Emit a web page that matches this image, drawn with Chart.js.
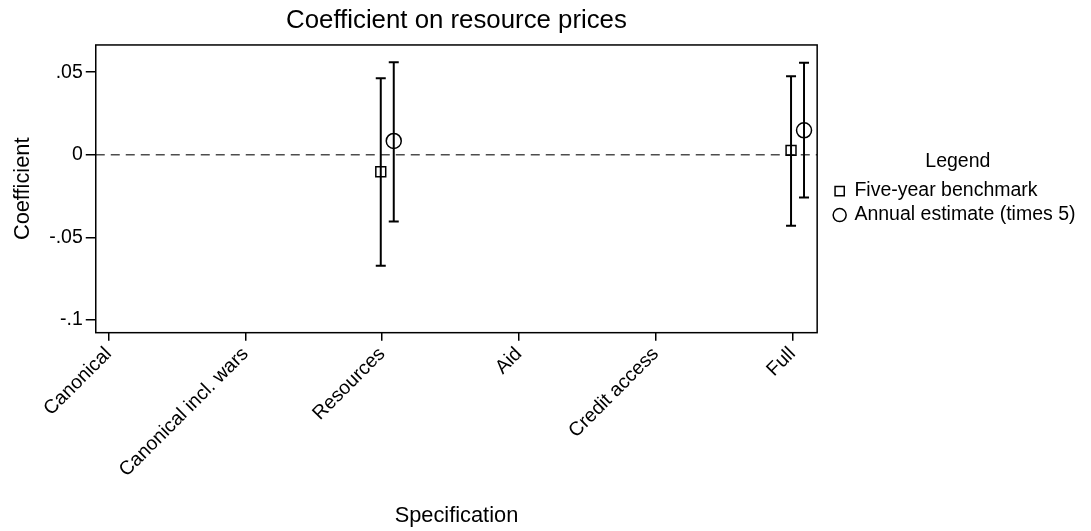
<!DOCTYPE html>
<html>
<head>
<meta charset="utf-8">
<title>Coefficient on resource prices</title>
<script src="https://cdn.jsdelivr.net/npm/chart.js@4.4.1/dist/chart.umd.min.js"></script>
<style>
  html, body { margin: 0; padding: 0; background: #fff; }
  #wrap { width: 1091px; height: 531px; position: relative; }
</style>
</head>
<body>
<div id="wrap"><canvas id="chart"></canvas></div>
<script>
// Specifications along the horizontal axis
const categories = ['Canonical', 'Canonical incl. wars', 'Resources', 'Aid', 'Credit access', 'Full'];

// Five-year benchmark: point estimate and confidence bounds
const fiveYearSpec = ['Resources', 'Full'];
const fiveYearCoef = [-0.0103, 0.0027];
const fiveYearLow  = [-0.0672, -0.0430];
const fiveYearHigh = [0.0463, 0.0475];

// Annual estimate (scaled by 5): point estimate and confidence bounds
const annualSpec = ['Resources', 'Full'];
const annualCoef = [0.0084, 0.0148];
const annualLow  = [-0.0404, -0.0259];
const annualHigh = [0.0560, 0.0558];

// Vertical axis ticks
const yTickValues = [-0.1, -0.05, 0, 0.05];
const yTickLabels = ['-.1', '-.05', '0', '.05'];

const FONT = '"Liberation Sans", Arial, Helvetica, sans-serif';
const INK = '#000000';

// small side-by-side offsets so the two estimates do not overlap
const FIVE_SHIFT = -0.01;
const ANNUAL_SHIFT = 0.085;

function points(spec, coef, low, high, shift) {
  return spec.map((s, i) => ({
    x: categories.indexOf(s) + 1 + shift,
    y: coef[i],
    lo: low[i],
    hi: high[i]
  }));
}

// Zero reference line, confidence intervals and the plot frame
const decorations = {
  id: 'decorations',
  beforeDatasetsDraw(chart) {
    const { ctx, chartArea: a, scales: { x, y } } = chart;
    ctx.save();
    const y0 = y.getPixelForValue(0);
    ctx.beginPath();
    ctx.rect(a.left, a.top, a.right - a.left, a.bottom - a.top);
    ctx.clip();
    ctx.strokeStyle = '#4d4d4d';
    ctx.lineWidth = 1.5;
    ctx.setLineDash([9, 6]);
    ctx.beginPath();
    ctx.moveTo(a.left, y0);
    ctx.lineTo(a.right, y0);
    ctx.stroke();
    ctx.setLineDash([]);
    ctx.strokeStyle = INK;
    ctx.lineWidth = 2;
    const cap = 5;
    chart.data.datasets.forEach(ds => {
      ds.data.forEach(p => {
        const px = x.getPixelForValue(p.x);
        const pl = y.getPixelForValue(p.lo);
        const ph = y.getPixelForValue(p.hi);
        ctx.beginPath();
        ctx.moveTo(px, ph); ctx.lineTo(px, pl);
        ctx.moveTo(px - cap, ph); ctx.lineTo(px + cap, ph);
        ctx.moveTo(px - cap, pl); ctx.lineTo(px + cap, pl);
        ctx.stroke();
      });
    });
    ctx.restore();
  },
  afterDraw(chart) {
    const { ctx, chartArea: a } = chart;
    ctx.save();
    ctx.strokeStyle = INK;
    ctx.lineWidth = 1.5;
    ctx.strokeRect(a.left, a.top, a.right - a.left, a.bottom - a.top);
    ctx.restore();
  }
};

new Chart(document.getElementById('chart'), {
  type: 'scatter',
  data: {
    datasets: [
      {
        label: 'Five-year benchmark',
        data: points(fiveYearSpec, fiveYearCoef, fiveYearLow, fiveYearHigh, FIVE_SHIFT),
        pointStyle: 'rect',
        pointRadius: 7,
        pointBorderWidth: 1.5,
        borderColor: INK,
        backgroundColor: 'rgba(0,0,0,0)'
      },
      {
        label: 'Annual estimate (times 5)',
        data: points(annualSpec, annualCoef, annualLow, annualHigh, ANNUAL_SHIFT),
        pointStyle: 'circle',
        pointRadius: 7.5,
        pointBorderWidth: 1.5,
        borderColor: INK,
        backgroundColor: 'rgba(0,0,0,0)'
      }
    ]
  },
  options: {
    responsive: true,
    maintainAspectRatio: false,
    animation: false,
    events: [],
    layout: { padding: { left: 0, right: 5.5, top: 0, bottom: 0 } },
    scales: {
      x: {
        type: 'linear',
        min: 0.906,
        max: 6.181,
        afterBuildTicks(scale) {
          scale.ticks = categories.map((c, i) => ({ value: i + 1 }));
        },
        grid: { display: true, drawOnChartArea: false, drawTicks: true, tickLength: 8, color: INK, lineWidth: 1.5 },
        border: { display: false },
        ticks: {
          autoSkip: false,
          minRotation: 45,
          maxRotation: 45,
          padding: 2,
          color: INK,
          font: { family: FONT, size: 19.5 },
          callback: (v) => categories[Math.round(v) - 1]
        },
        title: {
          display: true,
          text: 'Specification',
          color: INK,
          font: { family: FONT, size: 21.8 },
          padding: { top: 19, bottom: 2 }
        }
      },
      y: {
        type: 'linear',
        min: -0.1077,
        max: 0.0665,
        afterBuildTicks(scale) {
          scale.ticks = yTickValues.map(v => ({ value: v }));
        },
        grid: { display: true, drawOnChartArea: false, drawTicks: true, tickLength: 10, color: INK, lineWidth: 1.5 },
        border: { display: false },
        ticks: {
          padding: 3,
          color: INK,
          font: { family: FONT, size: 19.5 },
          callback: (v) => {
            const i = yTickValues.findIndex(t => Math.abs(t - v) < 1e-9);
            return i >= 0 ? yTickLabels[i] : '';
          }
        },
        title: {
          display: true,
          text: 'Coefficient',
          color: INK,
          font: { family: FONT, size: 21.8 },
          padding: { top: 10, bottom: 10 }
        }
      },
      // empty spacer between the plot frame and the legend
      gap: {
        type: 'linear',
        axis: 'y',
        position: 'right',
        display: false,
        afterFit(scale) { scale.width = 13; }
      }
    },
    plugins: {
      title: {
        display: true,
        fullSize: false,
        text: 'Coefficient on resource prices',
        color: INK,
        font: { family: FONT, size: 25.8, weight: 'normal' },
        padding: { top: 5, bottom: 9 }
      },
      tooltip: { enabled: false },
      legend: {
        position: 'right',
        fullSize: false,
        align: 'center',
        title: {
          display: true,
          text: 'Legend',
          color: INK,
          font: { family: FONT, size: 19.5 },
          padding: { top: 4, bottom: 1.1 }
        },
        labels: {
          usePointStyle: true,
          boxWidth: 10,
          boxHeight: 9.2,
          padding: 4.5,
          color: INK,
          font: { family: FONT, size: 19.5 },
          generateLabels(chart) {
            return chart.data.datasets.map((ds, i) => ({
              text: ds.label,
              pointStyle: ds.pointStyle,
              fillStyle: 'rgba(0,0,0,0)',
              strokeStyle: INK,
              lineWidth: 1.5,
              fontColor: INK,
              hidden: false,
              datasetIndex: i
            }));
          }
        }
      }
    }
  },
  plugins: [decorations]
});
</script>
</body>
</html>
